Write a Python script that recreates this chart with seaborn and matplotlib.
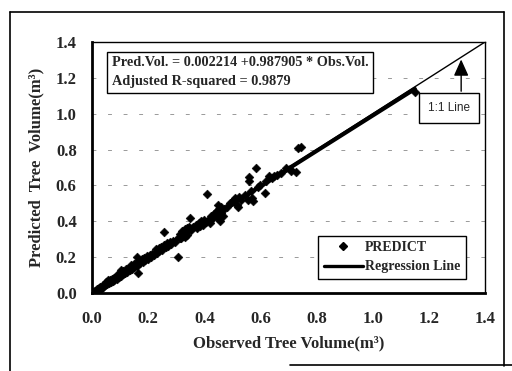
import numpy as np
import pandas as pd
import seaborn as sns
import matplotlib
matplotlib.use("Agg")
from matplotlib import pyplot as plt
from matplotlib.lines import Line2D

# observed vs predicted tree volume
obs = [0.005, 0.01, 0.012, 0.018, 0.02, 0.025, 0.028, 0.03, 0.035, 0.038,
       0.04, 0.045, 0.048, 0.05, 0.055, 0.058, 0.06, 0.065, 0.068, 0.07,
       0.075, 0.078, 0.08, 0.085, 0.088, 0.09, 0.095, 0.1, 0.102, 0.105,
       0.11, 0.112, 0.118, 0.12, 0.125, 0.13, 0.135, 0.14, 0.142, 0.148,
       0.15, 0.155, 0.16, 0.162, 0.165, 0.168, 0.172, 0.178, 0.18, 0.185,
       0.19, 0.195, 0.2, 0.205, 0.21, 0.215, 0.22, 0.228, 0.232, 0.238,
       0.24, 0.245, 0.25, 0.255, 0.258, 0.262, 0.268, 0.272, 0.278, 0.282,
       0.29, 0.295, 0.305, 0.31, 0.313, 0.315, 0.318, 0.322, 0.325, 0.33,
       0.332, 0.335, 0.338, 0.34, 0.345, 0.35, 0.352, 0.36, 0.37, 0.375,
       0.38, 0.385, 0.39, 0.395, 0.4, 0.405, 0.41, 0.415, 0.42, 0.425,
       0.43, 0.435, 0.44, 0.445, 0.448, 0.45, 0.452, 0.455, 0.458, 0.46,
       0.465, 0.47, 0.48, 0.49, 0.5, 0.505, 0.51, 0.515, 0.52, 0.525,
       0.53, 0.545, 0.555, 0.558, 0.56, 0.565, 0.57, 0.575, 0.585, 0.59,
       0.6, 0.615, 0.62, 0.63, 0.64, 0.65, 0.66, 0.675, 0.69, 0.705,
       0.71, 0.728, 0.735, 0.745, 1.15]
pred = [0.006, 0.012, 0.01, 0.02, 0.017, 0.028, 0.024, 0.033, 0.03, 0.042,
        0.036, 0.05, 0.043, 0.062, 0.05, 0.075, 0.055, 0.07, 0.06, 0.08,
        0.068, 0.085, 0.074, 0.09, 0.08, 0.1, 0.088, 0.112, 0.095, 0.13,
        0.105, 0.12, 0.11, 0.135, 0.118, 0.14, 0.128, 0.155, 0.135, 0.16,
        0.143, 0.165, 0.152, 0.2, 0.11, 0.175, 0.165, 0.19, 0.172, 0.198,
        0.183, 0.205, 0.192, 0.21, 0.202, 0.22, 0.212, 0.245, 0.225, 0.25,
        0.232, 0.255, 0.242, 0.34, 0.27, 0.255, 0.28, 0.265, 0.285, 0.272,
        0.29, 0.285, 0.2, 0.315, 0.306, 0.33, 0.305, 0.345, 0.32, 0.355,
        0.31, 0.34, 0.36, 0.325, 0.37, 0.42, 0.35, 0.37, 0.38, 0.365,
        0.39, 0.375, 0.4, 0.38, 0.405, 0.395, 0.555, 0.41, 0.39, 0.43,
        0.42, 0.44, 0.45, 0.46, 0.49, 0.42, 0.47, 0.4, 0.48, 0.445,
        0.43, 0.47, 0.48, 0.5, 0.505, 0.52, 0.53, 0.49, 0.48, 0.535,
        0.52, 0.545, 0.52, 0.625, 0.645, 0.57, 0.53, 0.515, 0.7, 0.59,
        0.6, 0.56, 0.625, 0.655, 0.64, 0.655, 0.66, 0.67, 0.695, 0.69,
        0.68, 0.675, 0.81, 0.815, 1.12]

intercept = 0.002214
slope = 0.987905
reg_x = [0.0, 1.15]
one_x = [0.0, 1.4]

df = pd.DataFrame({'obs': obs, 'pred': pred})
reg = pd.DataFrame({'x': reg_x, 'y': [intercept + slope * v for v in reg_x]})
one = pd.DataFrame({'x': one_x, 'y': one_x})

sns.set_style('white')
plt.rcParams['font.family'] = ['Liberation Serif', 'DejaVu Serif']
plt.rcParams['font.weight'] = 'bold'

fig = plt.figure(figsize=(5.12, 3.71), dpi=100)
ax = fig.add_axes([0.1797, 0.2102, 0.7676, 0.6766])

# 1:1 line
sns.lineplot(data=one, x='x', y='y', color='black', lw=1.0, ax=ax)
# regression line
sns.lineplot(data=reg, x='x', y='y', color='black', lw=3.0, ax=ax)
# points
sns.scatterplot(data=df, x='obs', y='pred', marker='D', s=20, color='black',
                edgecolor='black', linewidth=0.4, ax=ax, zorder=3)

ax.set_xlim(0, 1.4)
ax.set_ylim(0, 1.4)
ticks = [0.0, 0.2, 0.4, 0.6, 0.8, 1.0, 1.2, 1.4]
ax.set_xticks(ticks)
ax.set_yticks(ticks)
ax.set_xticklabels([f'{t:.1f}' for t in ticks], fontsize=12, fontweight='bold')
ax.set_yticklabels([f'{t:.1f}' for t in ticks], fontsize=12, fontweight='bold')
ax.tick_params(axis='both', direction='out', length=4, width=1, color='black')
ax.tick_params(axis='x', pad=9)
ax.tick_params(axis='y', pad=7)

for t in ticks[1:-1]:
    ax.axhline(t, color='#999999', lw=0.7, ls=(0, (4, 12)), zorder=0)

for side in ['left', 'bottom']:
    ax.spines[side].set_linewidth(2.0)
for side in ['top', 'right']:
    ax.spines[side].set_linewidth(1.0)
for side in ax.spines:
    ax.spines[side].set_color('black')

ax.set_xlabel('Observed Tree Volume(m³)', fontsize=12, fontweight='bold', labelpad=6)
ax.set_ylabel('Predicted  Tree  Volume(m³)', fontsize=12, fontweight='bold', labelpad=8)

# equation box
ax.text(0.07, 1.32, 'Pred.Vol. = 0.002214 +0.987905 * Obs.Vol.\nAdjusted R-squared = 0.9879',
        fontsize=10.3, fontweight='bold', va='top', ha='left', linespacing=1.6,
        bbox=dict(boxstyle='square,pad=0.3', facecolor='white', edgecolor='black', lw=1.0))

# 1:1 line callout
ax.annotate('', xy=(1.315, 1.318), xytext=(1.315, 1.11),
            arrowprops=dict(arrowstyle='-|>,head_length=1.0,head_width=0.45',
                            color='black', lw=1.0))
ax.text(1.272, 1.032, '1:1 Line', fontsize=8.5, family='Liberation Sans',
        fontweight='normal', ha='center', va='center',
        bbox=dict(boxstyle='square,pad=0.75', facecolor='white', edgecolor='black', lw=1.0))

handles = [Line2D([], [], marker='D', ls='none', color='black', markersize=3.8),
           Line2D([], [], color='black', lw=2.4)]
leg = ax.legend(handles, ['PREDICT', 'Regression Line'], loc='lower right',
                bbox_to_anchor=(0.958, 0.045), fancybox=False, framealpha=1,
                edgecolor='black', prop={'size': 10, 'weight': 'bold'},
                handlelength=2.8, handletextpad=0.15, borderpad=0.4,
                labelspacing=0.45, borderaxespad=0.2)
leg.get_frame().set_linewidth(1.0)

# outer frame
fx = lambda p: p / 512
fy = lambda p: 1 - p / 371
fig.add_artist(Line2D([fx(10), fx(10)], [fy(12), fy(371)], color='black', lw=1.2))
fig.add_artist(Line2D([fx(10), fx(504)], [fy(12), fy(12)], color='black', lw=1.2))
fig.add_artist(Line2D([fx(504), fx(504)], [fy(12), fy(366)], color='black', lw=1.2))
fig.add_artist(Line2D([fx(290), fx(512)], [fy(365), fy(365)], color='black', lw=1.2))

fig.savefig('out.png', dpi=100)
